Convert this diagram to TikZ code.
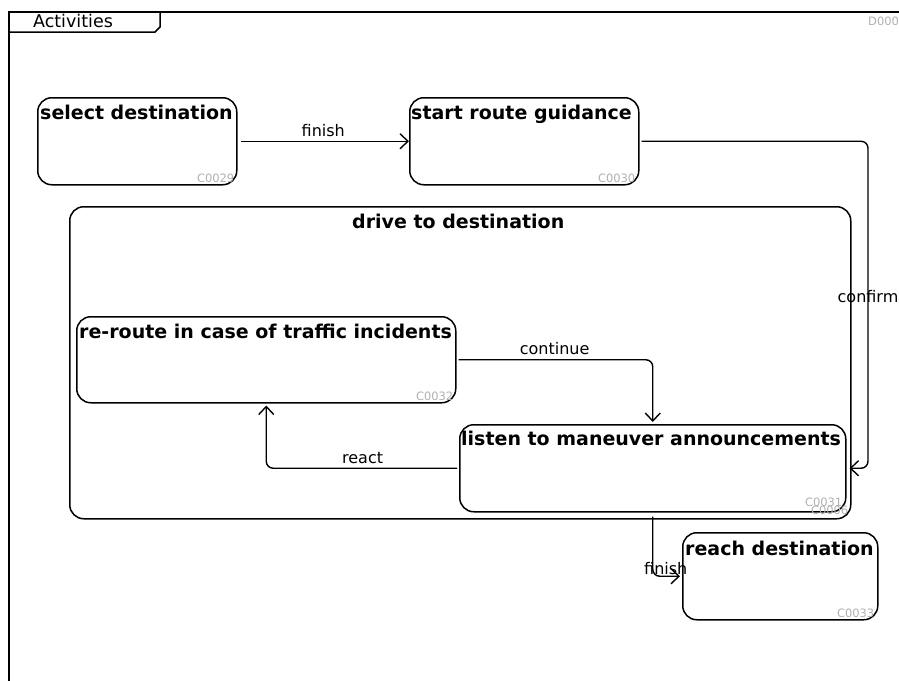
\documentclass[tikz,border=0pt]{standalone}
\usepackage{fontspec}
\setmainfont{DejaVu Sans}
\usetikzlibrary{
  arrows.meta,
  positioning,
  calc
}
\definecolor{actLine}{HTML}{000000}
\definecolor{actTag}{HTML}{B0B0B0}
\tikzset{
  actframe/.style={draw=actLine, line width=1.5pt},
  actnode/.style={
    draw=actLine, line width=1.5pt, rounded corners=14pt, inner sep=0pt,
    anchor=north west
  },
  acttitle/.style={font=\fontsize{19}{22}\selectfont\bfseries, inner sep=0pt, anchor=base west},
  acttag/.style={font=\fontsize{11.5}{13}\selectfont, text=actTag, inner sep=0pt, anchor=base east},
  trans/.style={-{Straight Barb[length=8pt,width=15pt]}, line width=1.4pt, rounded corners=7pt, actLine},
  translabel/.style={font=\fontsize{16}{19}\selectfont, inner sep=0pt}
}

\begin{document}
\begin{tikzpicture}[x=1pt,y=-1pt]
  \useasboundingbox (0,0) rectangle (899,680);
  % frame with tab
  \draw[actframe] (9,700) -- (9,12) -- (910,12);
  \draw[actframe] (9,32) -- (155,32) -- (160,27) -- (160,12);
  \node[translabel, font=\fontsize{17.5}{20}\selectfont] (tab) at (73,21) {Activities};
  \node[acttag, anchor=base west] (dtag) at (868,25) {D0008};

  % states
  \node[actnode, minimum width=199pt, minimum height=87pt] (sel) at (37,97) {};
  \node[actnode, minimum width=229pt, minimum height=87pt] (start) at (409,97) {};
  \node[actnode, minimum width=781pt, minimum height=312pt] (drive) at (69,206) {};
  \node[actnode, minimum width=379pt, minimum height=86pt] (reroute) at (76,316) {};
  \node[actnode, minimum width=386pt, minimum height=87pt] (listen) at (459,424) {};
  \node[actnode, minimum width=195pt, minimum height=87pt] (reach) at (682,532) {};

  % titles
  \node[acttitle] (selT) at ([shift={(3,22)}]sel.north west) {select destination};
  \node[acttitle] (startT) at ([shift={(2,22)}]start.north west) {start route guidance};
  \node[acttitle, anchor=base] (driveT) at ([shift={(-2,22)}]drive.north) {drive to destination};
  \node[acttitle] (rerouteT) at ([shift={(3,22)}]reroute.north west) {re-route in case of traffic incidents};
  \node[acttitle] (listenT) at ([shift={(2,21)}]listen.north west) {listen to maneuver announcements};
  \node[acttitle] (reachT) at ([shift={(3,23)}]reach.north west) {reach destination};

  % ids
  \node[acttag] (selC) at ([shift={(-3,-3)}]sel.south east) {C0029};
  \node[acttag] (startC) at ([shift={(-4,-3)}]start.south east) {C0030};
  \node[acttag] (driveC) at ([shift={(-3,-5)}]drive.south east) {C0006};
  \node[acttag] (rerouteC) at ([shift={(-3,-3)}]reroute.south east) {C0032};
  \node[acttag] (listenC) at ([shift={(-4,-6)}]listen.south east) {C0031};
  \node[acttag] (reachC) at ([shift={(-4,-3)}]reach.south east) {C0033};

  % transitions
  \coordinate (cfm) at (868,0);
  \draw[trans, shorten <=3pt] (sel) -- node[translabel, anchor=base, yshift=5pt] {finish} (start);
  \draw[trans, shorten <=2pt, shorten >=3pt] (start.east) -- (start.east -| cfm)
    -- node[translabel, yshift=8pt, fill=none] {confirm} (cfm |- listen.east) -- (listen.east);
  \draw[trans, shorten <=2pt, shorten >=2pt] (reroute.east) -| node[translabel, pos=0.25, anchor=base, yshift=5pt] {continue} (listen.north);
  \draw[trans, shorten <=2pt, shorten >=2pt] (listen.west) -| node[translabel, pos=0.25, anchor=base, yshift=5pt] {react} (reroute.south);
  \draw[trans, shorten <=4pt, shorten >=2pt] (listen.south) |- node[translabel, pos=0.5, xshift=13pt, yshift=8pt] {finish} (reach.west);
\end{tikzpicture}
\end{document}
